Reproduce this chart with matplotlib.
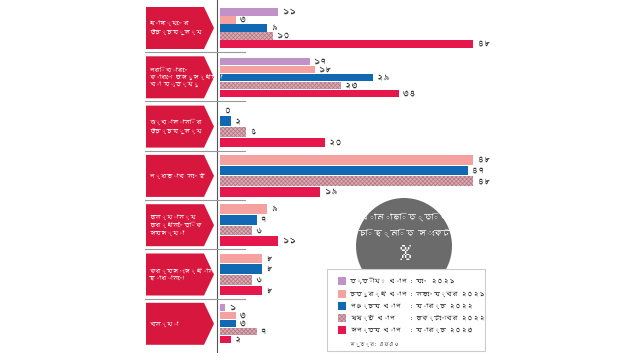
import matplotlib
matplotlib.use("Agg")
import matplotlib.pyplot as plt
import matplotlib.font_manager as fm
from matplotlib.ft2font import FT2Font
from matplotlib.patches import Polygon, Circle, Rectangle

# data
groups = ["খাদ্যের\nউচ্চমূল্য", "পরিবারে\nকারো অসুস্থতা\nবা মৃত্যু", "জ্বালানির\nউচ্চমূল্য",
          "প্রভাব নেই", "অন্যান্য\nঅর্থনৈতিক\nসমস্যা", "কর্মসংস্থান\nহারানো", "বন্যা"]
series_names = ["তৃতীয় ধাপ", "চতুর্থ ধাপ", "পঞ্চম ধাপ", "ষষ্ঠ ধাপ", "সপ্তম ধাপ"]
series_dates = ["মে ২০২১", "নভেম্বর ২০২১", "মার্চ ২০২২", "অক্টোবর ২০২২", "মার্চ ২০২৩"]
# None = no bar for that round
round3 = [11, 17, None, None, None, None, 1]
round4 = [3, 18, 0, 48, 9, 8, 3]
round5 = [9, 29, 2, 47, 7, 8, 3]
round6 = [10, 23, 5, 48, 6, 6, 7]
round7 = [48, 34, 20, 19, 11, 8, 2]
values = [round3, round4, round5, round6, round7]

colors = ["#c391c9", "#f4a19f", "#1269b3", "#dcaab2", "#e6174c"]
hatches = [None, None, None, "xxxxxxxx", None]
hatch_col = "#b07885"
label_red = "#d8173f"
bn_digits = str.maketrans("0123456789", "০১২৩৪৫৬৭৮৯")


def find_bengali_font():
    for path in fm.findSystemFonts():
        try:
            if 0x0995 in FT2Font(path).get_charmap():
                return path
        except Exception:
            pass
    return None


fam = ["DejaVu Sans"]
bpath = find_bengali_font()
if bpath:
    fm.fontManager.addfont(bpath)
    fam = [fm.FontProperties(fname=bpath).get_name(), "DejaVu Sans"]
plt.rcParams["font.family"] = fam
plt.rcParams["hatch.linewidth"] = 0.5

fig = plt.figure(figsize=(6.4, 3.6), dpi=100)
W, H = 640, 360
gpx = 49.3          # px per group
top = 7             # px of first group top
xscale = 253 / 48   # px per unit

ax = fig.add_axes([220 / W, 1 - (top + gpx * 7) / H, 300 / W, gpx * 7 / H])
ax.set_xlim(0, 300 / xscale)
ax.set_ylim(7, 0)
ax.axis("off")

for g in range(len(groups)):
    present = [s for s in range(5) if values[s][g] is not None]
    n = len(present)
    first, last = 5 / gpx, 37 / gpx
    pitch = (last - first) / (n - 1)
    for k, s in enumerate(present):
        v = values[s][g]
        y = g + first + k * pitch
        ax.barh(y, v, height=pitch * 0.9, color=colors[s], hatch=hatches[s],
                edgecolor=hatch_col if hatches[s] else colors[s], linewidth=0)
        ax.text(v + 0.5, y, str(v).translate(bn_digits), va="center", ha="left",
                fontsize=5.5, color="#333333")

# overlay in pixel coordinates
ov = fig.add_axes([0, 0, 1, 1], zorder=3)
ov.set_xlim(0, W)
ov.set_ylim(H, 0)
ov.axis("off")
ov.set_facecolor("none")

ov.plot([217, 217], [0, top + gpx * 7], color="#555555", lw=0.8)
for g, name in enumerate(groups):
    y0 = top + g * gpx
    y1 = y0 + 42
    ov.add_patch(Polygon([[146, y0], [204, y0], [214, (y0 + y1) / 2], [204, y1], [146, y1]],
                         closed=True, color=label_red, lw=0))
    ov.text(149, (y0 + y1) / 2, name, color="white", fontsize=4.2, va="center",
            ha="left", linespacing=1.45)
    if g < len(groups) - 1:
        ov.plot([145, 245], [y0 + 45, y0 + 45], color="#999999", lw=0.8)

# circle badge
ov.add_patch(Circle((404, 246), 48, color="#6b6b6b", lw=0))
ov.text(404, 217, "খানাভিত্তিক", color="white", fontsize=5.8, ha="center", va="center")
ov.text(404, 233, "চিহ্নিত সংকট", color="white", fontsize=5.8, ha="center", va="center")
ov.text(404, 253, "%", color="white", fontsize=17, ha="center", va="center")

# legend box
ov.add_patch(Rectangle((327, 269), 158, 82, facecolor="white", edgecolor="#cccccc", lw=0.8))
rows = [281, 294, 306, 318, 330]
for s in range(5):
    ov.add_patch(Rectangle((338, rows[s] - 4), 8, 8, facecolor=colors[s], hatch=hatches[s],
                           edgecolor=hatch_col if hatches[s] else colors[s], lw=0))
    ov.text(350, rows[s], series_names[s], fontsize=4.3, va="center", color="#333333")
    ov.text(410, rows[s], ": " + series_dates[s], fontsize=4.3, va="center", color="#333333")
ov.text(350, 344, "সূত্র: এফএও", fontsize=3.5, va="center", color="#555555")

fig.savefig("out.png", dpi=100, facecolor="white")
